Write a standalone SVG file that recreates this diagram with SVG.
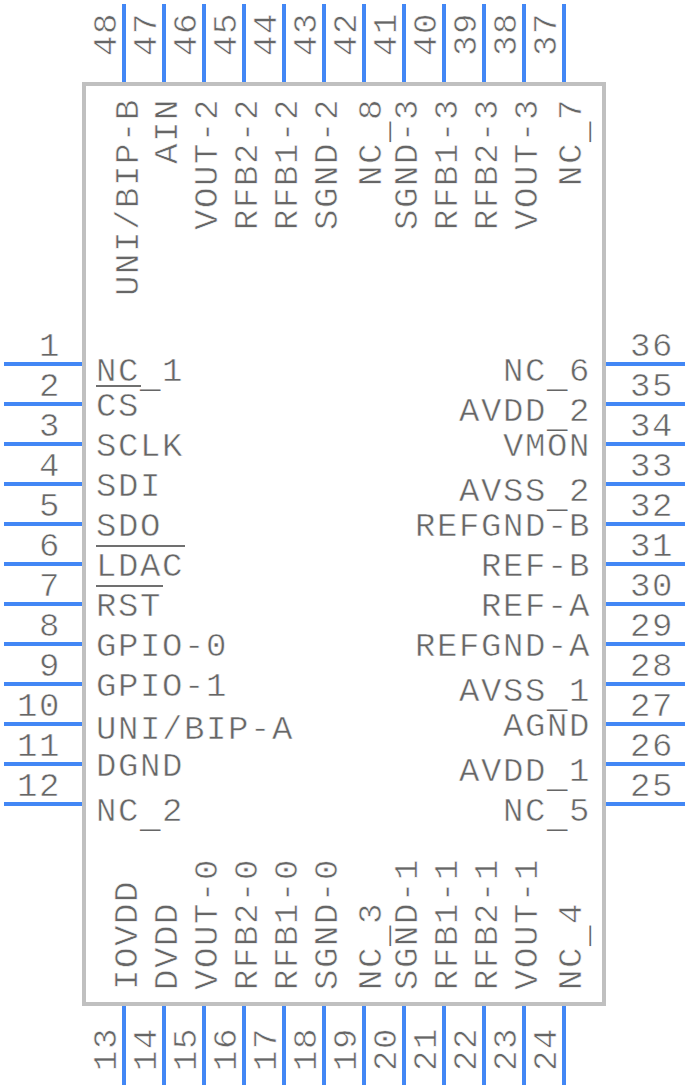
<svg xmlns="http://www.w3.org/2000/svg" width="688" height="1088" viewBox="0 0 688 1088">
<style>
text{font-family:"Liberation Mono","Courier New",monospace;font-size:34px;letter-spacing:1.6px;fill:#666;stroke:#fff;stroke-width:.55px;paint-order:fill stroke}
.e{text-anchor:end}
.u{stroke:none}
.pin{stroke:#4287f5;stroke-width:4;fill:none}
.bar{stroke:#707070;stroke-width:2;fill:none}
</style>
<rect width="688" height="1088" fill="#fff"/>
<g id="body"><rect x="84" y="84" width="520" height="920" fill="none" stroke="#c0c0c0" stroke-width="4"/></g>
<g id="connectors">
<path class="pin" d="M4 364H82M4 404H82M4 444H82M4 484H82M4 524H82M4 564H82M4 604H82M4 644H82M4 684H82M4 724H82M4 764H82M4 804H82"/>
<path class="pin" d="M606 364H685M606 404H685M606 444H685M606 484H685M606 524H685M606 564H685M606 604H685M606 644H685M606 684H685M606 724H685M606 764H685M606 804H685"/>
<path class="pin" d="M124 4V82M164 4V82M204 4V82M244 4V82M284 4V82M324 4V82M364 4V82M404 4V82M444 4V82M484 4V82M524 4V82M564 4V82"/>
<path class="pin" d="M124 1006V1085M164 1006V1085M204 1006V1085M244 1006V1085M284 1006V1085M324 1006V1085M364 1006V1085M404 1006V1085M444 1006V1085M484 1006V1085M524 1006V1085M564 1006V1085"/>
</g>
<g id="pins-left">
<g id="pin-1"><text class="e" x="61" y="356">1</text><text x="96" y="381">NC<tspan class="u" dy="6">_</tspan><tspan dy="-6">1</tspan></text></g>
<g id="pin-2"><text class="e" x="61" y="396">2</text><text x="96" y="416">CS</text><line class="bar" x1="96" y1="386" x2="141" y2="386"/></g>
<g id="pin-3"><text class="e" x="61" y="436">3</text><text x="96" y="456">SCLK</text></g>
<g id="pin-4"><text class="e" x="61" y="476">4</text><text x="96" y="496">SDI</text></g>
<g id="pin-5"><text class="e" x="61" y="516">5</text><text x="96" y="536">SDO</text></g>
<g id="pin-6"><text class="e" x="61" y="556">6</text><text x="96" y="576">LDAC</text><line class="bar" x1="96" y1="546" x2="185" y2="546"/></g>
<g id="pin-7"><text class="e" x="61" y="596">7</text><text x="96" y="616">RST</text><line class="bar" x1="96" y1="586" x2="163" y2="586"/></g>
<g id="pin-8"><text class="e" x="61" y="636">8</text><text x="96" y="656">GPIO-0</text></g>
<g id="pin-9"><text class="e" x="61" y="676">9</text><text x="96" y="696">GPIO-1</text></g>
<g id="pin-10"><text class="e" x="61" y="716">10</text><text x="96" y="739">UNI/BIP-A</text></g>
<g id="pin-11"><text class="e" x="61" y="756">11</text><text x="96" y="776">DGND</text></g>
<g id="pin-12"><text class="e" x="61" y="796">12</text><text x="96" y="821">NC<tspan class="u" dy="6">_</tspan><tspan dy="-6">2</tspan></text></g>
</g>
<g id="pins-right">
<g id="pin-36"><text x="630" y="356">36</text><text class="e" x="591" y="381">NC<tspan class="u" dy="6">_</tspan><tspan dy="-6">6</tspan></text></g>
<g id="pin-35"><text x="630" y="396">35</text><text class="e" x="591" y="421">AVDD<tspan class="u" dy="6">_</tspan><tspan dy="-6">2</tspan></text></g>
<g id="pin-34"><text x="630" y="436">34</text><text class="e" x="591" y="456">VMON</text></g>
<g id="pin-33"><text x="630" y="476">33</text><text class="e" x="591" y="501">AVSS<tspan class="u" dy="6">_</tspan><tspan dy="-6">2</tspan></text></g>
<g id="pin-32"><text x="630" y="516">32</text><text class="e" x="591" y="536">REFGND-B</text></g>
<g id="pin-31"><text x="630" y="556">31</text><text class="e" x="591" y="576">REF-B</text></g>
<g id="pin-30"><text x="630" y="596">30</text><text class="e" x="591" y="616">REF-A</text></g>
<g id="pin-29"><text x="630" y="636">29</text><text class="e" x="591" y="656">REFGND-A</text></g>
<g id="pin-28"><text x="630" y="676">28</text><text class="e" x="591" y="701">AVSS<tspan class="u" dy="6">_</tspan><tspan dy="-6">1</tspan></text></g>
<g id="pin-27"><text x="630" y="716">27</text><text class="e" x="591" y="736">AGND</text></g>
<g id="pin-26"><text x="630" y="756">26</text><text class="e" x="591" y="781">AVDD<tspan class="u" dy="6">_</tspan><tspan dy="-6">1</tspan></text></g>
<g id="pin-25"><text x="630" y="796">25</text><text class="e" x="591" y="821">NC<tspan class="u" dy="6">_</tspan><tspan dy="-6">5</tspan></text></g>
</g>
<g id="pins-top">
<g id="pin-48"><text transform="translate(116 56) rotate(-90)">48</text><text class="e" transform="translate(138 98) rotate(-90)">UNI/BIP-B</text></g>
<g id="pin-47"><text transform="translate(156 56) rotate(-90)">47</text><text class="e" transform="translate(177 98) rotate(-90)">AIN</text></g>
<g id="pin-46"><text transform="translate(196 56) rotate(-90)">46</text><text class="e" transform="translate(217 98) rotate(-90)">VOUT-2</text></g>
<g id="pin-45"><text transform="translate(236 56) rotate(-90)">45</text><text class="e" transform="translate(257 98) rotate(-90)">RFB2-2</text></g>
<g id="pin-44"><text transform="translate(276 56) rotate(-90)">44</text><text class="e" transform="translate(297 98) rotate(-90)">RFB1-2</text></g>
<g id="pin-43"><text transform="translate(316 56) rotate(-90)">43</text><text class="e" transform="translate(337 98) rotate(-90)">SGND-2</text></g>
<g id="pin-42"><text transform="translate(356 56) rotate(-90)">42</text><text class="e" transform="translate(381 98) rotate(-90)">NC<tspan class="u" dy="6">_</tspan><tspan dy="-6">8</tspan></text></g>
<g id="pin-41"><text transform="translate(396 56) rotate(-90)">41</text><text class="e" transform="translate(417 98) rotate(-90)">SGND-3</text></g>
<g id="pin-40"><text transform="translate(436 56) rotate(-90)">40</text><text class="e" transform="translate(457 98) rotate(-90)">RFB1-3</text></g>
<g id="pin-39"><text transform="translate(476 56) rotate(-90)">39</text><text class="e" transform="translate(497 98) rotate(-90)">RFB2-3</text></g>
<g id="pin-38"><text transform="translate(516 56) rotate(-90)">38</text><text class="e" transform="translate(537 98) rotate(-90)">VOUT-3</text></g>
<g id="pin-37"><text transform="translate(556 56) rotate(-90)">37</text><text class="e" transform="translate(581 98) rotate(-90)">NC<tspan class="u" dy="6">_</tspan><tspan dy="-6">7</tspan></text></g>
</g>
<g id="pins-bottom">
<g id="pin-13"><text transform="translate(116 1071) rotate(-90)">13</text><text transform="translate(137 990) rotate(-90)">IOVDD</text></g>
<g id="pin-14"><text transform="translate(156 1071) rotate(-90)">14</text><text transform="translate(177 990) rotate(-90)">DVDD</text></g>
<g id="pin-15"><text transform="translate(196 1071) rotate(-90)">15</text><text transform="translate(217 990) rotate(-90)">VOUT-0</text></g>
<g id="pin-16"><text transform="translate(236 1071) rotate(-90)">16</text><text transform="translate(257 990) rotate(-90)">RFB2-0</text></g>
<g id="pin-17"><text transform="translate(276 1071) rotate(-90)">17</text><text transform="translate(297 990) rotate(-90)">RFB1-0</text></g>
<g id="pin-18"><text transform="translate(316 1071) rotate(-90)">18</text><text transform="translate(337 990) rotate(-90)">SGND-0</text></g>
<g id="pin-19"><text transform="translate(356 1071) rotate(-90)">19</text><text transform="translate(381 990) rotate(-90)">NC<tspan class="u" dy="6">_</tspan><tspan dy="-6">3</tspan></text></g>
<g id="pin-20"><text transform="translate(396 1071) rotate(-90)">20</text><text transform="translate(417 990) rotate(-90)">SGND-1</text></g>
<g id="pin-21"><text transform="translate(436 1071) rotate(-90)">21</text><text transform="translate(457 990) rotate(-90)">RFB1-1</text></g>
<g id="pin-22"><text transform="translate(476 1071) rotate(-90)">22</text><text transform="translate(497 990) rotate(-90)">RFB2-1</text></g>
<g id="pin-23"><text transform="translate(516 1071) rotate(-90)">23</text><text transform="translate(537 990) rotate(-90)">VOUT-1</text></g>
<g id="pin-24"><text transform="translate(556 1071) rotate(-90)">24</text><text transform="translate(581 990) rotate(-90)">NC<tspan class="u" dy="6">_</tspan><tspan dy="-6">4</tspan></text></g>
</g>
</svg>
